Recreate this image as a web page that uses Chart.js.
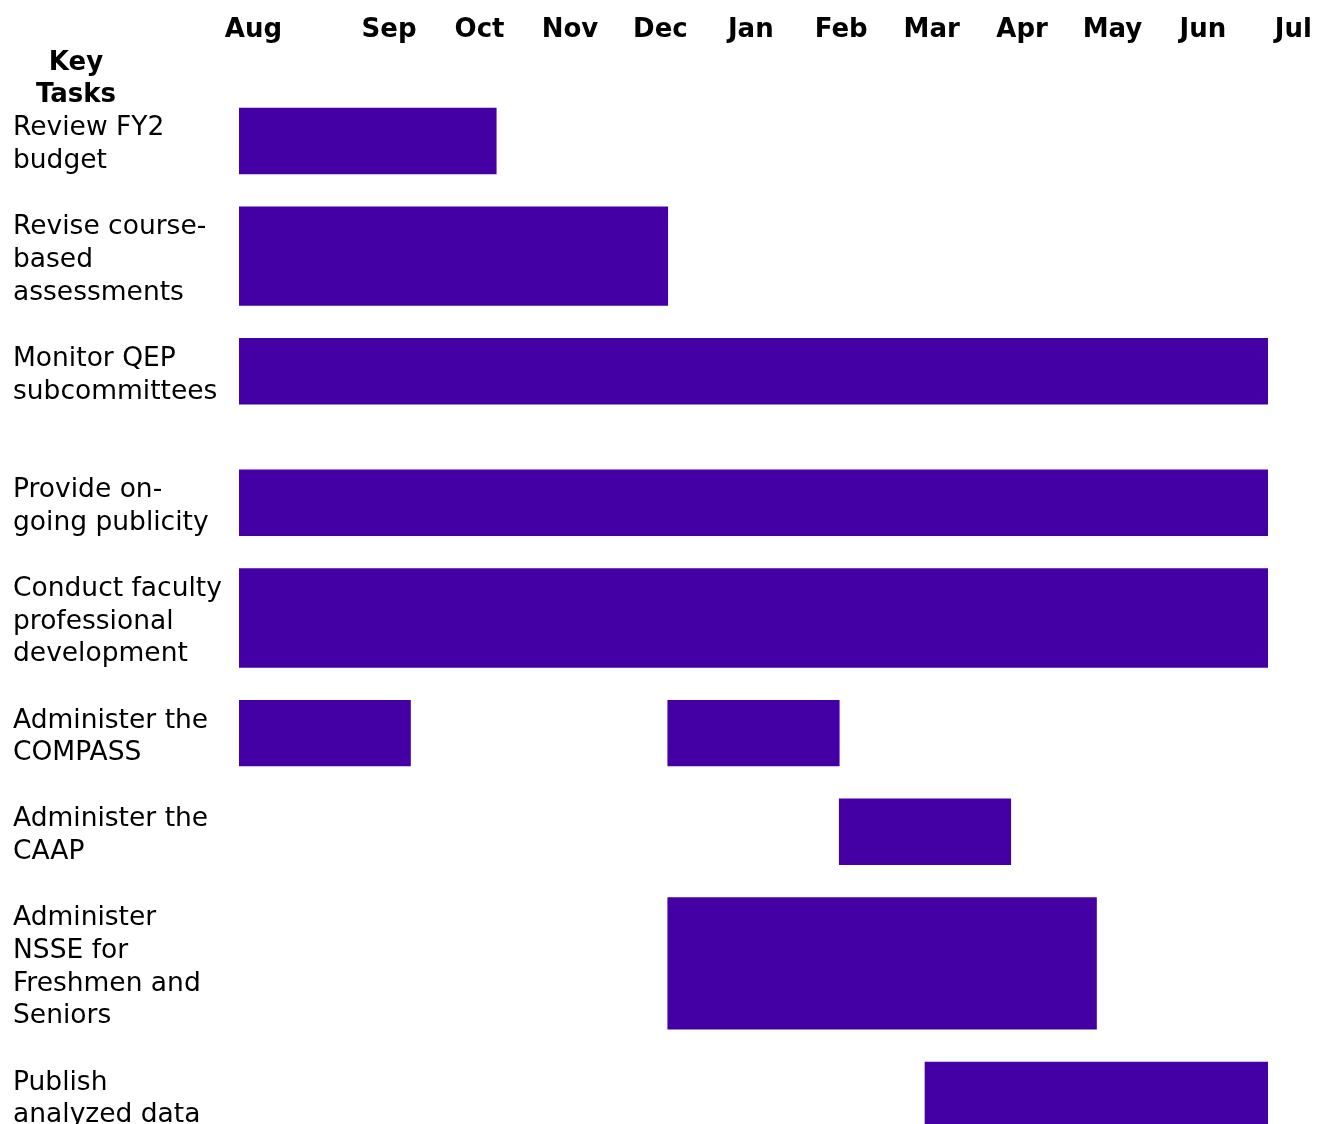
<!DOCTYPE html>
<html>
<head>
<meta charset="utf-8">
<title>Key Tasks</title>
<script src="https://cdn.jsdelivr.net/npm/chart.js@4.4.1/dist/chart.umd.min.js"></script>
<style>
    html, body { margin: 0; padding: 0; background: #fff; }
    .chart-wrap { position: relative; width: 1319px; height: 1124px; }
</style>
</head>
<body>
<div class="chart-wrap"><canvas id="ganttChart"></canvas></div>
<script>
// Month columns, the year starts in August
const months = ['Aug', 'Sep', 'Oct', 'Nov', 'Dec', 'Jan', 'Feb', 'Mar', 'Apr', 'May', 'Jun', 'Jul'];

// Task names, one entry per printed line
const tasks = [
    ['Review FY2', 'budget'],
    ['Revise course-', 'based', 'assessments'],
    ['Monitor QEP', 'subcommittees', ''],
    ['Provide on-', 'going publicity'],
    ['Conduct faculty', 'professional', 'development'],
    ['Administer the', 'COMPASS'],
    ['Administer the', 'CAAP'],
    ['Administer', 'NSSE for', 'Freshmen and', 'Seniors'],
    ['Publish', 'analyzed data']
];

// First and last month of every scheduled period of a task
const taskPeriods = [
    [['Aug', 'Oct']],
    [['Aug', 'Dec']],
    [['Aug', 'Jul']],
    [['Aug', 'Jul']],
    [['Aug', 'Jul']],
    [['Aug', 'Sep'], ['Jan', 'Feb']],
    [['Mar', 'Apr']],
    [['Jan', 'May']],
    [['Apr', 'Jul']]
];

const BAR_COLOR = '#4500A5';

Chart.defaults.font.family = '"DejaVu Sans", Verdana, sans-serif';
Chart.defaults.color = '#000';

// y axis is measured in text lines: every row holds its lines plus one blank line
const rowTops = [];
let lineCount = 0;
tasks.forEach(function(t) {
    rowTops.push(lineCount);
    lineCount += t.length + 1;
});

const datasets = tasks.map(function(t, i) {
    const barLines = t.filter(s => s !== '').length;
    return {
        label: t.join(' ').trim(),
        barLines: barLines,
        data: taskPeriods[i].map(p => ({
            x: [months.indexOf(p[0]), months.indexOf(p[1]) + 1],
            y: rowTops[i] + barLines / 2
        })),
        backgroundColor: BAR_COLOR,
        borderWidth: 0,
        grouped: false,
        barThickness: 60
    };
});

// "Key Tasks" header above the task column
const keyTasksHeader = {
    id: 'keyTasksHeader',
    afterDraw(chart) {
        const ctx = chart.ctx;
        const y = chart.scales.y;
        ctx.save();
        ctx.font = 'bold 26px "DejaVu Sans", Verdana, sans-serif';
        ctx.fillStyle = '#000';
        ctx.textAlign = 'center';
        ctx.textBaseline = 'middle';
        const x = y.left + 63;
        ctx.fillText('Key', x, y.getPixelForValue(-1.36));
        ctx.fillText('Tasks', x, y.getPixelForValue(-0.4));
        ctx.restore();
    }
};

const ctx = document.getElementById('ganttChart').getContext('2d');
const chart = new Chart(ctx, {
    type: 'bar',
    data: { datasets: datasets },
    plugins: [keyTasksHeader],
    options: {
        indexAxis: 'y',
        responsive: true,
        maintainAspectRatio: false,
        animation: false,
        layout: { padding: { left: 13, right: 51, top: 0, bottom: 0 } },
        plugins: {
            legend: { display: false },
            tooltip: { enabled: true }
        },
        scales: {
            x: {
                type: 'linear',
                min: 0,
                max: months.length,
                display: false
            },
            // month header row, its cells are a bit wider than the body columns
            xh: {
                type: 'linear',
                position: 'top',
                min: -0.66,
                max: 10.72,
                grid: { display: false, drawTicks: false },
                border: { display: false },
                afterBuildTicks: function(scale) {
                    scale.ticks = months.map((m, i) => ({ value: i === 0 ? -0.5 : i }));
                },
                afterFit: function(scale) {
                    scale.height = 46;
                    scale.paddingLeft = 0;
                    scale.paddingRight = 0;
                },
                ticks: {
                    autoSkip: false,
                    maxRotation: 0,
                    minRotation: 0,
                    padding: 0,
                    font: { size: 26, weight: 'bold' },
                    callback: (value, index) => months[index]
                }
            },
            y: {
                type: 'linear',
                reverse: true,
                offset: false,
                bounds: 'data',
                min: -1.885,
                max: 30.88,
                grid: { display: false, drawTicks: false, offset: false },
                border: { display: false },
                afterBuildTicks: function(scale) {
                    // labels sit a touch below the middle of their row
                    scale.ticks = tasks.map((t, i) => ({ value: rowTops[i] + t.length / 2 + 0.12 }));
                },
                afterFit: function(scale) {
                    scale.width = 226;
                    scale.paddingTop = 0;
                    scale.paddingBottom = 0;
                },
                ticks: {
                    autoSkip: false,
                    crossAlign: 'far',
                    padding: 0,
                    font: { size: 26.5, lineHeight: 1.23 },
                    callback: (value, index) => tasks[index]
                }
            }
        }
    }
});

// bars span their text lines, so thickness comes from the y scale
function fitBarThickness(chart) {
    const y = chart.scales.y;
    const lineHeight = Math.abs(y.getPixelForValue(1) - y.getPixelForValue(0));
    chart.data.datasets.forEach(function(ds) {
        ds.barThickness = ds.barLines * lineHeight;
    });
    chart.update('none');
}
fitBarThickness(chart);
</script>
</body>
</html>
